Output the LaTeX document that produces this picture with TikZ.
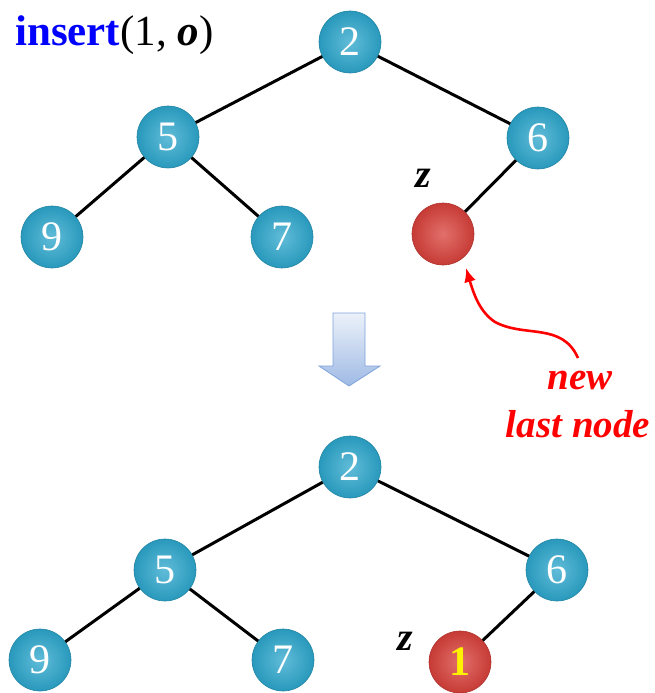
\documentclass[tikz,border=0pt]{standalone}
\usepackage{fontspec}
\setmainfont{Liberation Serif}
\usetikzlibrary{arrows.meta}
\begin{document}
\begin{tikzpicture}[x=1pt,y=-1pt,
  ball/.style={circle,minimum size=62pt,inner sep=0pt,shading=radial,inner color=#1!75!white,outer color=#1!92!black,draw=#1!80!black,line width=0.6pt},
  bnode/.style={ball=TealB,text=white,font=\fontsize{42}{42}\selectfont},
  rnode/.style={ball=RedB,text=yellow,font=\bfseries\fontsize{42}{42}\selectfont},
  edge/.style={line width=3pt,black},
  zlab/.style={font=\bfseries\itshape\fontsize{40}{40}\selectfont},
  redtxt/.style={text=red,font=\bfseries\itshape\fontsize{39}{39}\selectfont}]
\definecolor{TealB}{HTML}{2CA6CC}
\definecolor{RedB}{HTML}{D8403A}
\definecolor{ArrowB}{HTML}{7FA3DC}
\useasboundingbox (0,0) rectangle (654,693);
% title
\node[anchor=base west,inner sep=0pt] (title) at (15,46) {\fontsize{43}{43}\selectfont\textcolor{blue}{\bfseries insert}(1, \textbf{\textit{o}})};
% top tree
\node[bnode] (a2) at (350,42) {2};
\node[bnode] (a5) at (168,137) {5};
\node[bnode] (a6) at (538,138) {6};
\node[bnode] (a9) at (52,237) {9};
\node[bnode] (a7) at (282,237) {7};
\node[rnode] (az) at (443,234) {};
\node[zlab] (azl) at (423,178) {z};
% bottom tree
\node[bnode] (b2) at (350,467) {2};
\node[bnode] (b5) at (165,570) {5};
\node[bnode] (b6) at (557,570) {6};
\node[bnode] (b9) at (40,660) {9};
\node[bnode] (b7) at (283,660) {7};
\node[rnode] (bz) at (460,662) {1};
\node[zlab] (bzl) at (405,641) {z};
% edges
\draw[edge] (a2) -- (a5); \draw[edge] (a2) -- (a6);
\draw[edge] (a5) -- (a9); \draw[edge] (a5) -- (a7);
\draw[edge] (a6) -- (az);
\draw[edge] (b2) -- (b5); \draw[edge] (b2) -- (b6);
\draw[edge] (b5) -- (b9); \draw[edge] (b5) -- (b7);
\draw[edge] (b6) -- (bz);
% red annotation
\node[redtxt] (new) at (580,380) {new};
\node[redtxt] (last) at (578,424) {last node};
\coordinate (cstart) at (578,358);
\draw[red,line width=2.6pt,-{Latex[length=14pt,width=12pt]}] (cstart) .. controls (562,322) and (525,338) .. (495,322) .. controls (480,312) and (474,295) .. (466,268);
% block arrow
\shade[top color=ArrowB!15!white,bottom color=ArrowB!75!white,draw=ArrowB,line width=0.8pt]
  (333,313) -- (365,313) -- (365,366) -- (380,366) -- (349,386) -- (319,366) -- (333,366) -- cycle;
\end{tikzpicture}
\end{document}
